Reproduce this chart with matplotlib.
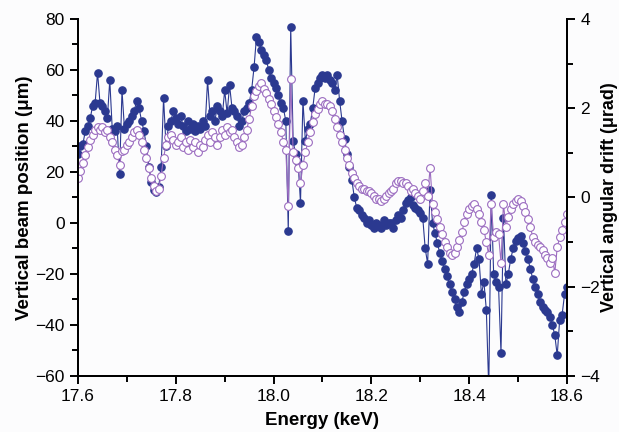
import numpy as np
import matplotlib.pyplot as plt
from matplotlib.ticker import MultipleLocator

plt.rcParams['font.family'] = ['Liberation Sans', 'DejaVu Sans']

# energy scan, 5 eV steps
energy = np.round(np.linspace(17.6, 18.6, 201), 3)

# vertical beam position (um)
beam_pos = [
    27, 30, 31, 36, 38, 41, 46, 47, 59, 47,
    46, 44, 41, 56, 37, 36, 38, 19, 52, 37,
    39, 40, 42, 44, 48, 45, 40, 36, 30, 22,
    16, 13, 12, 14, 22, 49, 30, 38, 40, 44,
    41, 39, 42, 38, 36, 40, 37, 39, 36, 38,
    37, 40, 38, 56, 42, 44, 40, 46, 44, 42,
    52, 43, 54, 45, 44, 42, 38, 40, 44, 45,
    47, 52, 61, 73, 71, 68, 66, 64, 60, 57,
    55, 53, 50, 47, 45, 40, -3, 77, 32, 27,
    24, 8, 48, 32, 37, 39, 45, 53, 55, 57,
    58, 57, 58, 56, 55, 52, 58, 48, 40, 33,
    27, 22, 17, 10, 6, 5, 3, 2, 0, 1,
    -1, -2, 0, -1, -2, 1, -1, 0, 0, -2,
    1, 3, 2, 5, 8, 9, 10, 7, 6, 5,
    4, 2, -10, -16, 13, 0, -4, -8, -12, -15,
    -18, -21, -24, -27, -30, -33, -35, -31, -27, -24,
    -22, -20, -16, -10, -14, -28, -23, -34, -65, 11,
    -20, -23, -25, -51, 2, -24, -20, -14, -10, -7,
    -6, -5, -8, -11, -14, -18, -22, -25, -28, -31,
    -33, -34, -35, -37, -40, -44, -52, -38, -36, -28,
    -25,
]

# vertical angular drift (urad)
ang_drift = [
    0.43, 0.60, 0.78, 0.95, 1.12, 1.29, 1.41, 1.52, 1.58, 1.52,
    1.58, 1.47, 1.52, 1.35, 1.24, 1.06, 0.95, 0.72, 1.03, 1.06,
    1.18, 1.24, 1.35, 1.47, 1.52, 1.41, 1.24, 1.06, 0.89, 0.66,
    0.43, 0.26, 0.14, 0.20, 0.49, 0.89, 1.18, 1.35, 1.41, 1.29,
    1.18, 1.24, 1.35, 1.12, 1.24, 1.06, 1.29, 1.12, 1.24, 1.01,
    1.18, 1.12, 1.29, 1.41, 1.24, 1.47, 1.35, 1.18, 1.35, 1.52,
    1.41, 1.58, 1.47, 1.52, 1.35, 1.24, 1.12, 1.18, 1.35, 1.52,
    1.75, 2.04, 2.27, 2.39, 2.50, 2.56, 2.44, 2.33, 2.21, 2.10,
    1.93, 1.81, 1.64, 1.47, 1.24, 1.06, -0.20, 2.65, 1.01, 0.83,
    0.66, 0.32, 0.72, 1.01, 1.24, 1.47, 1.70, 1.87, 1.98, 2.10,
    2.16, 2.10, 2.10, 2.04, 1.93, 1.75, 1.58, 1.41, 1.24, 1.06,
    0.89, 0.72, 0.55, 0.43, 0.32, 0.26, 0.20, 0.20, 0.14, 0.14,
    0.09, 0.03, -0.03, -0.03, -0.09, -0.03, 0.03, 0.09, 0.14, 0.20,
    0.32, 0.37, 0.37, 0.32, 0.32, 0.26, 0.14, 0.20, 0.09, 0.03,
    -0.03, 0.14, 0.32, 0.03, 0.66, -0.14, -0.32, -0.49, -0.66, -0.83,
    -1.01, -1.12, -1.24, -1.29, -1.24, -1.12, -0.95, -0.78, -0.55, -0.37,
    -0.26, -0.20, -0.14, -0.26, -0.37, -0.55, -0.72, -1.01, -1.29, -0.14,
    -0.89, -0.78, -0.83, -1.46, -0.14, -0.66, -0.43, -0.26, -0.14, -0.09,
    -0.03, -0.09, -0.20, -0.32, -0.49, -0.66, -0.89, -1.01, -1.06, -1.12,
    -1.18, -1.29, -1.35, -1.46, -1.35, -1.69, -1.12, -0.89, -0.72, -0.55,
    -0.37,
]

navy = '#2b3990'
lilac = '#9b6cc0'

fig = plt.figure(figsize=(6.19, 4.32), dpi=100, facecolor='#fcfcfd')
ax = fig.add_axes([0.126, 0.130, 0.790, 0.826])
ax.set_facecolor('none')
ax2 = ax.twinx()

ax.plot(energy, beam_pos, '-o', color=navy, lw=0.8, ms=5.2,
        mfc=navy, mec=navy)
ax2.plot(energy, ang_drift, '-o', color=lilac, lw=0.8, ms=5.6,
         mfc='white', mec=lilac, mew=0.8)

ax.set_xlim(17.6, 18.6)
ax.set_ylim(-60, 80)
ax2.set_ylim(-4, 4)

ax.xaxis.set_major_locator(MultipleLocator(0.2))
ax.xaxis.set_minor_locator(MultipleLocator(0.1))
ax.yaxis.set_major_locator(MultipleLocator(20))
ax.yaxis.set_minor_locator(MultipleLocator(10))
ax2.yaxis.set_major_locator(MultipleLocator(2))
ax2.yaxis.set_minor_locator(MultipleLocator(1))
ax.xaxis.set_major_formatter(plt.FuncFormatter(lambda v, p: f'{v:.1f}'))

for a in (ax, ax2):
    a.spines['top'].set_visible(False)
    for s in a.spines.values():
        s.set_linewidth(1.4)
    a.tick_params(which='major', direction='out', length=6, width=1.4,
                  labelsize=12.5)
    a.tick_params(which='minor', direction='out', length=4, width=1.4)

ax.set_xlabel('Energy (keV)', fontsize=13.5, fontweight='bold', labelpad=6)
ax.set_ylabel('Vertical beam position (\u03bcm)', fontsize=13.5,
              fontweight='bold', labelpad=2)
ax2.set_ylabel('Vertical angular drift (\u03bcrad)', fontsize=13,
               fontweight='bold', labelpad=1)

fig.savefig('out.png', dpi=100, facecolor=fig.get_facecolor())
